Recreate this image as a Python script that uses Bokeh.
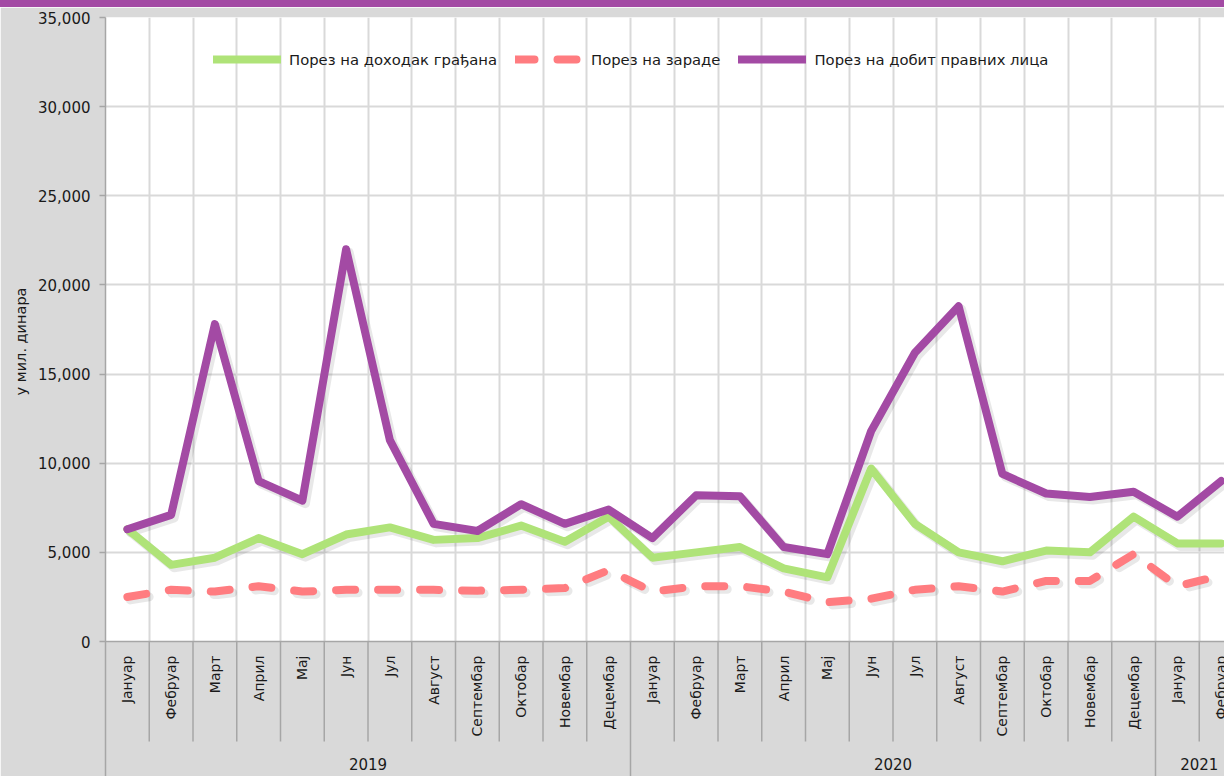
import numpy as np
from bokeh.plotting import figure
from bokeh.layouts import column
from bokeh.models import (Range1d, FixedTicker, NumeralTickFormatter, Legend,
                          LegendItem, Title, Span, Div)
from bokeh.core.properties import value
from bokeh.embed import file_html
from bokeh.resources import INLINE

# ---------------- data ----------------
months = ["Јануар", "Фебруар", "Март", "Април", "Мај", "Јун", "Јул",
          "Август", "Септембар", "Октобар", "Новембар", "Децембар"]
years = ["2019", "2020", "2021"]
months_per_year = [12, 12, 2]
month_labels = months + months + months[:2]

series_names = ["Порез на доходак грађана", "Порез на зараде",
                "Порез на добит правних лица"]

income_tax = [6300, 4300, 4700, 5800, 4900, 6000, 6400, 5700, 5800, 6500, 5600, 7000,
              4700, 5000, 5300, 4100, 3600, 9700, 6600, 5000, 4500, 5100, 5000, 7000,
              5500, 5500]
wage_tax = [2500, 2900, 2800, 3100, 2800, 2900, 2900, 2900, 2850, 2900, 3000, 4000,
            2800, 3100, 3100, 2800, 2200, 2400, 2900, 3100, 2800, 3400, 3400, 4900,
            3100, 3700]
profit_tax = [6300, 7100, 17800, 9000, 7900, 22000, 11300, 6600, 6200, 7700, 6600, 7400,
              5800, 8200, 8150, 5300, 4900, 11800, 16200, 18800, 9400, 8300, 8100, 8400,
              7000, 9000]

y_ticks = list(range(0, 35001, 5000))
y_label = "у мил. динара"

# ---------------- layout ----------------
W = 1224
BAND = 7
H = 776 - BAND
LEFT, TOP = 105, 10
CAT_PX = 43.75
UNIT_PX = 624 / 35000
FONT = "DejaVu Sans"
TXT = "#1a1a1a"

x_end = (W - LEFT) / CAT_PX
y_top = 35000
y_start = y_top - (H - TOP) / UNIT_PX

n = len(month_labels)
xs = np.arange(n) + 0.5
bounds = np.cumsum([0] + months_per_year)
year_centers = [(bounds[i] + bounds[i + 1]) / 2 for i in range(len(years))]
year_bounds = [int(b) for b in bounds[1:-1]]
month_bounds = [b for b in range(1, n) if b not in year_bounds]

p = figure(width=W, height=H, output_backend="svg", toolbar_location=None,
           x_range=Range1d(0, x_end), y_range=Range1d(y_start, y_top),
           x_axis_location=None,
           min_border_left=LEFT, min_border_top=TOP,
           min_border_right=0, min_border_bottom=0,
           background_fill_color="white", border_fill_color="#d9d9d9",
           outline_line_color=None, margin=0)

# grids
p.xgrid.ticker = FixedTicker(ticks=list(range(1, n + 1)))
p.ygrid.ticker = FixedTicker(ticks=y_ticks[1:])
for g in (p.xgrid, p.ygrid):
    g.grid_line_color = "#d9d9d9"
    g.grid_line_width = 2

# y axis
ax = p.yaxis[0]
ax.ticker = FixedTicker(ticks=y_ticks)
ax.formatter = NumeralTickFormatter(format="0,0")
ax.major_tick_out = 6
ax.major_tick_in = 0
ax.minor_tick_line_color = None
ax.axis_line_color = "#a6a6a6"
ax.axis_line_width = 1.5
ax.major_tick_line_color = "#a6a6a6"
ax.major_tick_line_width = 1.5
ax.major_label_standoff = 9
ax.major_label_text_font = FONT
ax.major_label_text_font_size = "15px"
ax.major_label_text_color = TXT

# category label area background
p.quad(left=0, right=x_end, bottom=y_start, top=0,
       fill_color="#d9d9d9", line_color=None)

# separators
sep_len = 100 / UNIT_PX
p.segment(x0=month_bounds, x1=month_bounds, y0=[0] * len(month_bounds),
          y1=[-sep_len] * len(month_bounds), line_color="#a6a6a6", line_width=1.5)
p.segment(x0=year_bounds, x1=year_bounds, y0=[0] * len(year_bounds),
          y1=[y_start] * len(year_bounds), line_color="#a6a6a6", line_width=1.5)
p.add_layout(Span(location=0, dimension="width", line_color="#a6a6a6", line_width=1.5))

# category labels
p.text(x=xs, y=np.zeros(n), text=month_labels, angle=np.pi / 2,
       text_align="right", text_baseline="middle", y_offset=14,
       text_font=value(FONT), text_font_size="14px", text_color=TXT)
p.text(x=year_centers, y=[0] * len(years), text=years,
       text_align="center", text_baseline="middle", y_offset=122,
       text_font=value(FONT), text_font_size="15px", text_color=TXT)

# soft shadows
dx = 3 / CAT_PX
dy = 3 / UNIT_PX
p.line(xs + dx, np.array(wage_tax) - dy, line_color="black", line_alpha=0.09,
       line_width=9, line_dash="19 23", line_cap="round", line_join="round")
for vals in (income_tax, profit_tax):
    p.line(xs + dx, np.array(vals) - dy, line_color="black", line_alpha=0.09,
           line_width=9, line_join="round", line_cap="round")

# series
r_wage = p.line(xs, wage_tax, line_color="#ff7c80", line_width=8,
                line_dash="19 23", line_cap="round", line_join="round")
r_income = p.line(xs, income_tax, line_color="#afe378", line_width=8,
                  line_cap="round", line_join="round")
r_profit = p.line(xs, profit_tax, line_color="#a34aa4", line_width=8,
                  line_cap="round", line_join="round")

legend = Legend(items=[LegendItem(label=series_names[0], renderers=[r_income]),
                       LegendItem(label=series_names[1], renderers=[r_wage]),
                       LegendItem(label=series_names[2], renderers=[r_profit])],
                location=(108, 707), orientation="horizontal",
                background_fill_alpha=0, border_line_alpha=0, padding=0, margin=0,
                spacing=18, label_standoff=8, glyph_width=68, glyph_height=20,
                label_height=20, label_text_font=FONT, label_text_font_size="14.8px",
                label_text_color=TXT, label_text_baseline="middle")
p.add_layout(legend, "center")

# y-axis title, placed on the left side
p.add_layout(Title(text=y_label, align="right", offset=270, standoff=13,
                   text_font=FONT, text_font_size="14.5px", text_font_style="normal",
                   text_color=TXT), "left")

band = Div(text="", width=W, height=BAND, margin=0,
           styles={"background-color": "#a34aa4"})

open("out.html", "w").write(file_html(column(band, p, spacing=0, margin=0), INLINE))
